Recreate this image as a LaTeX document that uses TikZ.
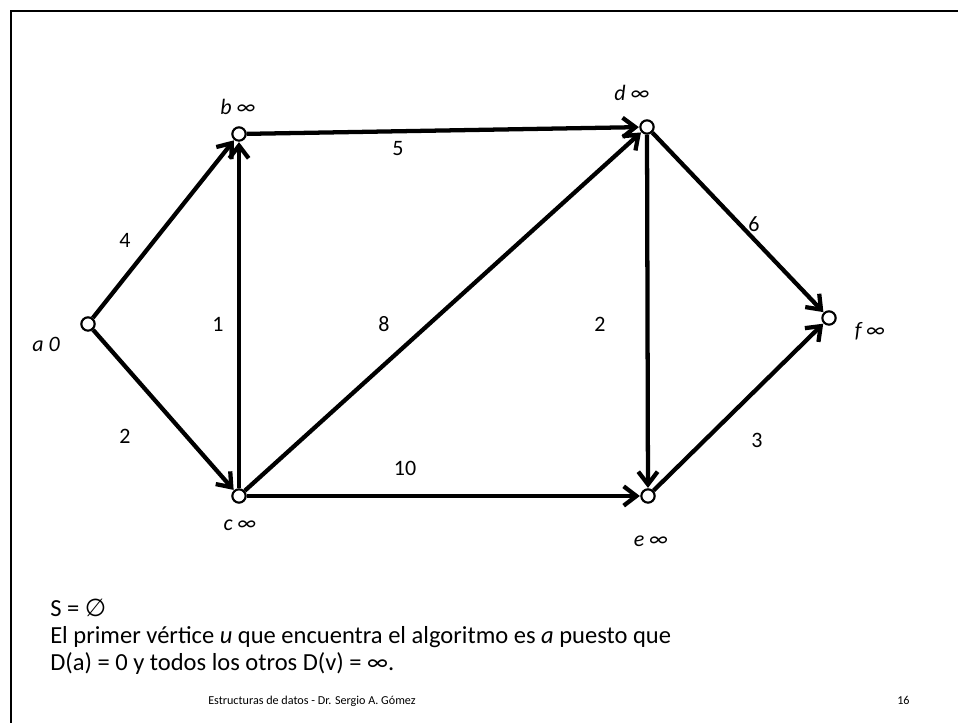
\documentclass[tikz,border=0pt]{standalone}
\usepackage{fontspec}
\setmainfont{Carlito}
\newfontfamily\symfont{DejaVu Sans}
\usetikzlibrary{arrows.meta}
\begin{document}
\begin{tikzpicture}[x=0.75pt,y=-0.75pt,
  vtx/.style={circle,draw,line width=1.6pt,fill=white,minimum size=10pt,inner sep=0pt},
  edge/.style={line width=3.2pt,-{Straight Barb[length=9.5pt,width=14.5pt]},shorten >=0.3pt},
  wlab/.style={font=\fontsize{16.5}{19}\selectfont},
  vlab/.style={font=\fontsize{16.5}{19}\selectfont\itshape},
  body/.style={font=\fontsize{18.4}{22}\selectfont,anchor=base west,inner sep=0pt},
  foot/.style={font=\fontsize{9.1}{11}\selectfont,anchor=base west,inner sep=0pt}]
\useasboundingbox (0,0) rectangle (958,723);
\draw[line width=1.5pt] (11,723) -- (11,11) -- (958,11);
% vertices
\node[vtx] (a) at (88,324) {};
\node[vtx] (b) at (239,134) {};
\node[vtx] (c) at (239,496) {};
\node[vtx] (d) at (647,127) {};
\node[vtx] (e) at (648,496) {};
\node[vtx] (f) at (829,318) {};
% vertex labels
\node[vlab] (la) at (46,344) {a 0};
\node[vlab] (lb) at (238,107) {b ∞};
\node[vlab] (lc) at (240,525) {c ∞};
\node[vlab] (ld) at (632,93) {d ∞};
\node[vlab] (le) at (651,541) {e ∞};
\node[vlab] (lf) at (870,331) {f ∞};
% edges
\draw[edge] (a) -- (b);
\draw[edge] (a) -- (c);
\draw[edge] (c) -- (b);
\draw[edge] (b) -- (d);
\draw[edge] (c) -- (d);
\draw[edge] (c) -- (e);
\draw[edge] (d) -- (e);
\draw[edge] (d) -- (f);
\draw[edge] (e) -- (f);
% weights
\node[wlab] (w1) at (125,240) {4};
\node[wlab] (w2) at (125,436) {2};
\node[wlab] (w3) at (218,324) {1};
\node[wlab] (w4) at (398,149) {5};
\node[wlab] (w5) at (384,324) {8};
\node[wlab] (w6) at (405,468) {10};
\node[wlab] (w7) at (600,324) {2};
\node[wlab] (w8) at (754,224) {6};
\node[wlab] (w9) at (757,440) {3};
% text
\node[body] (t1) at (50,617) {S = {\symfont ∅}};
\node[body] (t2) at (50,644) {El primer vértice \textit{u} que encuentra el algoritmo es \textit{a} puesto que};
\node[body] (t3) at (50,671) {D(a) = 0 y todos los otros D(v) = ∞.};
\node[foot] (t4) at (208,705) {Estructuras de datos - Dr. Sergio A. Gómez};
\node[foot] (t5) at (897,705) {16};
\end{tikzpicture}
\end{document}
